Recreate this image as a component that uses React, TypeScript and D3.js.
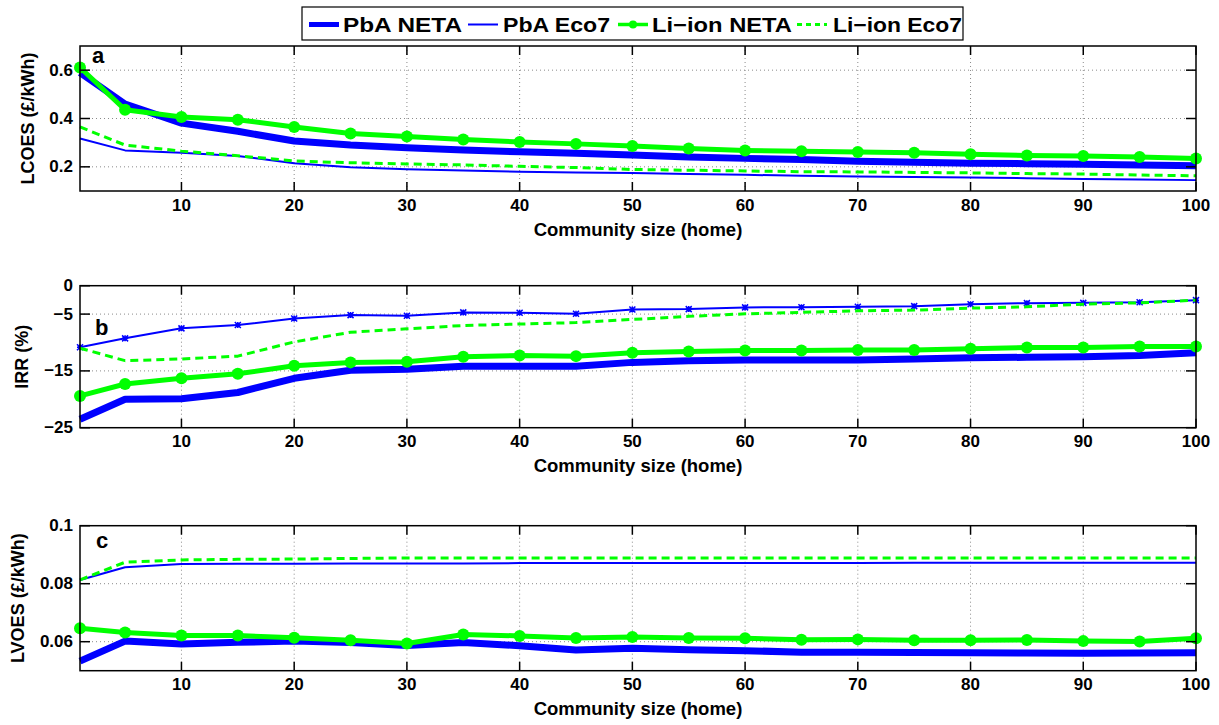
import React from "react";
import * as d3 from "d3";

// Community sizes (number of homes)
const sizes = [1, 5, 10, 15, 20, 25, 30, 35, 40, 45, 50, 55, 60, 65, 70, 75, 80, 85, 90, 95, 100];
const xTicks = [10, 20, 30, 40, 50, 60, 70, 80, 90, 100];

// (a) Levelised cost of energy storage, £/kWh
const lcoesPbaNeta = [0.590, 0.460, 0.381, 0.347, 0.307, 0.290, 0.279, 0.270, 0.262, 0.256, 0.249, 0.241, 0.235, 0.230, 0.223, 0.219, 0.215, 0.213, 0.211, 0.208, 0.204];
const lcoesPbaEco7 = [0.317, 0.268, 0.258, 0.245, 0.215, 0.198, 0.190, 0.185, 0.180, 0.177, 0.174, 0.170, 0.167, 0.163, 0.160, 0.158, 0.156, 0.153, 0.150, 0.148, 0.145];
const lcoesLiNeta = [0.611, 0.436, 0.406, 0.395, 0.365, 0.338, 0.326, 0.313, 0.303, 0.295, 0.286, 0.276, 0.268, 0.264, 0.261, 0.258, 0.252, 0.247, 0.245, 0.241, 0.234];
const lcoesLiEco7 = [0.365, 0.290, 0.265, 0.246, 0.224, 0.217, 0.212, 0.208, 0.202, 0.197, 0.189, 0.186, 0.183, 0.180, 0.179, 0.177, 0.175, 0.172, 0.170, 0.166, 0.163];
const lcoesTicks = [0.2, 0.4, 0.6];
const lcoesTickLabels = ["0.2", "0.4", "0.6"];

// (b) Internal rate of return, %
const irrPbaNeta = [-23.5, -20.0, -19.9, -18.8, -16.3, -14.9, -14.7, -14.2, -14.2, -14.2, -13.5, -13.2, -13.1, -13.1, -13.1, -12.9, -12.7, -12.6, -12.5, -12.3, -11.8];
const irrPbaEco7 = [-10.85, -9.27, -7.51, -6.93, -5.76, -5.18, -5.29, -4.7, -4.77, -4.95, -4.18, -4.12, -3.82, -3.8, -3.72, -3.6, -3.25, -3.07, -3.02, -2.9, -2.54];
const irrLiNeta = [-19.4, -17.3, -16.3, -15.5, -14.1, -13.5, -13.4, -12.5, -12.3, -12.4, -11.8, -11.6, -11.4, -11.4, -11.3, -11.3, -11.1, -10.9, -10.9, -10.7, -10.7];
const irrLiEco7 = [-11.0, -13.2, -12.9, -12.4, -9.9, -8.2, -7.6, -7.0, -6.75, -6.5, -5.94, -5.4, -4.95, -4.7, -4.42, -4.3, -3.95, -3.72, -3.25, -3.02, -2.54];
const irrTicks = [-25, -15, -5, 0];
const irrTickLabels = ["\u221225", "\u221215", "\u22125", "0"];

// (c) Levelised value of energy storage, £/kWh
const lvoesPbaNeta = [0.0533, 0.0602, 0.0592, 0.0598, 0.0602, 0.0597, 0.0587, 0.0597, 0.0586, 0.0571, 0.0577, 0.0572, 0.0569, 0.0564, 0.0564, 0.0563, 0.0562, 0.0561, 0.0560, 0.0561, 0.0562];
const lvoesPbaEco7 = [0.0813, 0.0857, 0.0868, 0.0869, 0.0869, 0.0870, 0.0870, 0.0870, 0.0871, 0.0871, 0.0871, 0.0871, 0.0871, 0.0871, 0.0871, 0.0872, 0.0872, 0.0872, 0.0872, 0.0872, 0.0872];
const lvoesLiNeta = [0.0646, 0.0632, 0.0621, 0.0621, 0.0614, 0.0605, 0.0594, 0.0625, 0.0620, 0.0613, 0.0616, 0.0613, 0.0612, 0.0607, 0.0608, 0.0605, 0.0605, 0.0606, 0.0602, 0.0601, 0.0612];
const lvoesLiEco7 = [0.0813, 0.0874, 0.0882, 0.0884, 0.0885, 0.0887, 0.0889, 0.0889, 0.0889, 0.0889, 0.0889, 0.0889, 0.0889, 0.0889, 0.0889, 0.0889, 0.0889, 0.0889, 0.0889, 0.0889, 0.0889];
const lvoesTicks = [0.06, 0.08, 0.1];
const lvoesTickLabels = ["0.06", "0.08", "0.1"];

const seriesNames = ["PbA NETA", "PbA Eco7", "Li\u2212ion NETA", "Li\u2212ion Eco7"];

const BLUE = "#0000ff";
const GREEN = "#00ff00";
const FONT = "'Liberation Sans', Arial, Helvetica, sans-serif";

const W = 1219;
const H = 725;
const LEFT = 80;
const RIGHT = 1196;

type Style = { color: string; width: number; dash?: string; circles?: boolean; stars?: boolean };
const styles: Style[] = [
  { color: BLUE, width: 7 },
  { color: BLUE, width: 2 },
  { color: GREEN, width: 5, circles: true },
  { color: GREEN, width: 3, dash: "8,5" },
];

type PanelSpec = {
  letter: string;
  top: number;
  bottom: number;
  domain: [number, number];
  ticks: number[];
  tickLabels: string[];
  ylabel: string;
  ylabelX: number;
  letterPos: [number, number];
  series: number[][];
  starsOn?: number;
};

const panels: PanelSpec[] = [
  {
    letter: "a", top: 46, bottom: 191, domain: [0.1, 0.7],
    ticks: lcoesTicks, tickLabels: lcoesTickLabels,
    ylabel: "LCOES (\u00a3/kWh)", ylabelX: 28, letterPos: [92, 63],
    series: [lcoesPbaNeta, lcoesPbaEco7, lcoesLiNeta, lcoesLiEco7],
  },
  {
    letter: "b", top: 285.7, bottom: 427.7, domain: [-25, 0],
    ticks: irrTicks, tickLabels: irrTickLabels,
    ylabel: "IRR (%)", ylabelX: 22, letterPos: [95, 335],
    series: [irrPbaNeta, irrPbaEco7, irrLiNeta, irrLiEco7], starsOn: 1,
  },
  {
    letter: "c", top: 525.7, bottom: 670.7, domain: [0.05, 0.1],
    ticks: lvoesTicks, tickLabels: lvoesTickLabels,
    ylabel: "LVOES (\u00a3/kWh)", ylabelX: 18, letterPos: [96, 548],
    series: [lvoesPbaNeta, lvoesPbaEco7, lvoesLiNeta, lvoesLiEco7],
  },
];

const x = d3.scaleLinear().domain([1, 100]).range([LEFT, RIGHT]);

function Panel({ p }: { p: PanelSpec }) {
  const y = d3.scaleLinear().domain(p.domain).range([p.bottom, p.top]);
  const line = d3
    .line<number>()
    .x((_, i) => x(sizes[i]))
    .y((d) => y(d));
  const tickLen = 9;
  return (
    <g>
      {/* grid */}
      {xTicks.filter((t) => t < 100).map((t) => (
        <line key={"gx" + t} x1={x(t)} x2={x(t)} y1={p.top} y2={p.bottom}
          stroke="#8a8a8a" strokeWidth={1} strokeDasharray="1,3" />
      ))}
      {p.ticks.filter((t) => t > p.domain[0] && t < p.domain[1]).map((t) => (
        <line key={"gy" + t} x1={LEFT} x2={RIGHT} y1={y(t)} y2={y(t)}
          stroke="#8a8a8a" strokeWidth={1} strokeDasharray="1,3" />
      ))}
      {/* series */}
      {p.series.map((vals, si) => {
        const s = styles[si];
        return (
          <g key={"s" + si}>
            <path d={line(vals) || ""} fill="none" stroke={s.color} strokeWidth={s.width}
              strokeDasharray={s.dash} strokeLinejoin="round" />
            {s.circles && vals.map((v, i) => (
              <circle key={i} cx={x(sizes[i])} cy={y(v)} r={6} fill={s.color} />
            ))}
            {p.starsOn === si && vals.map((v, i) => {
              const cx = x(sizes[i]);
              const cy = y(v);
              const r = 3;
              return (
                <path key={i}
                  d={`M${cx - r},${cy - r}L${cx + r},${cy + r}M${cx - r},${cy + r}L${cx + r},${cy - r}M${cx - r},${cy}L${cx + r},${cy}M${cx},${cy - r}L${cx},${cy + r}`}
                  stroke={s.color} strokeWidth={1.5} fill="none" />
              );
            })}
          </g>
        );
      })}
      {/* ticks */}
      {xTicks.map((t) => (
        <g key={"tx" + t}>
          <line x1={x(t)} x2={x(t)} y1={p.bottom} y2={p.bottom - tickLen} stroke="#000" strokeWidth={1.5} />
          <line x1={x(t)} x2={x(t)} y1={p.top} y2={p.top + tickLen} stroke="#000" strokeWidth={1.5} />
          <text x={x(t)} y={p.bottom + 14} textAnchor="middle" dominantBaseline="central"
            fontFamily={FONT} fontWeight="bold" fontSize={17}>{t}</text>
        </g>
      ))}
      {p.ticks.map((t, i) => (
        <g key={"ty" + t}>
          <line x1={LEFT} x2={LEFT + 10} y1={y(t)} y2={y(t)} stroke="#000" strokeWidth={1.5} />
          <line x1={RIGHT} x2={RIGHT - 10} y1={y(t)} y2={y(t)} stroke="#000" strokeWidth={1.5} />
          <text x={LEFT - 7} y={y(t)} textAnchor="end" dominantBaseline="central"
            fontFamily={FONT} fontWeight="bold" fontSize={17}>{p.tickLabels[i]}</text>
        </g>
      ))}
      {/* frame */}
      <rect x={LEFT} y={p.top} width={RIGHT - LEFT} height={p.bottom - p.top}
        fill="none" stroke="#000" strokeWidth={1.5} />
      {/* labels */}
      <text x={(LEFT + RIGHT) / 2} y={p.bottom + 38} textAnchor="middle" dominantBaseline="central"
        fontFamily={FONT} fontWeight="bold" fontSize={18.5}>Community size (home)</text>
      <text transform={`translate(${p.ylabelX},${(p.top + p.bottom) / 2}) rotate(-90)`}
        textAnchor="middle" dominantBaseline="central"
        fontFamily={FONT} fontWeight="bold" fontSize={18}>{p.ylabel}</text>
      <text x={p.letterPos[0]} y={p.letterPos[1]} fontFamily={FONT} fontWeight="bold" fontSize={22}>{p.letter}</text>
    </g>
  );
}

function Legend() {
  const items = [
    { lx: 309, tx: 343, tw: 119 },
    { lx: 468, tx: 503, tw: 107 },
    { lx: 618, tx: 652, tw: 140 },
    { lx: 797, tx: 833, tw: 129 },
  ];
  const ly = 24.5;
  return (
    <g>
      <rect x={302} y={7} width={661} height={33} fill="#fff" stroke="#000" strokeWidth={1.2} />
      {items.map((it, i) => {
        const s = styles[i];
        return (
          <g key={i}>
            <line x1={it.lx} x2={it.lx + 30} y1={ly} y2={ly} stroke={s.color}
              strokeWidth={s.width === 7 ? 5 : s.width === 5 ? 3.5 : s.width} strokeDasharray={s.dash ? "5,4" : undefined} />
            {s.circles && <circle cx={it.lx + 15} cy={ly} r={4} fill={s.color} />}
            <text x={it.tx} y={32} fontFamily={FONT} fontWeight="bold" fontSize={21}
              textLength={it.tw} lengthAdjust="spacingAndGlyphs">{seriesNames[i]}</text>
          </g>
        );
      })}
    </g>
  );
}

export default function App() {
  return (
    <svg width={W} height={H} viewBox={`0 0 ${W} ${H}`}
      style={{ position: "absolute", left: 0, top: 0, background: "#fff" }}>
      <rect x={0} y={0} width={W} height={H} fill="#fff" />
      {panels.map((p) => (
        <Panel key={p.letter} p={p} />
      ))}
      <Legend />
    </svg>
  );
}
